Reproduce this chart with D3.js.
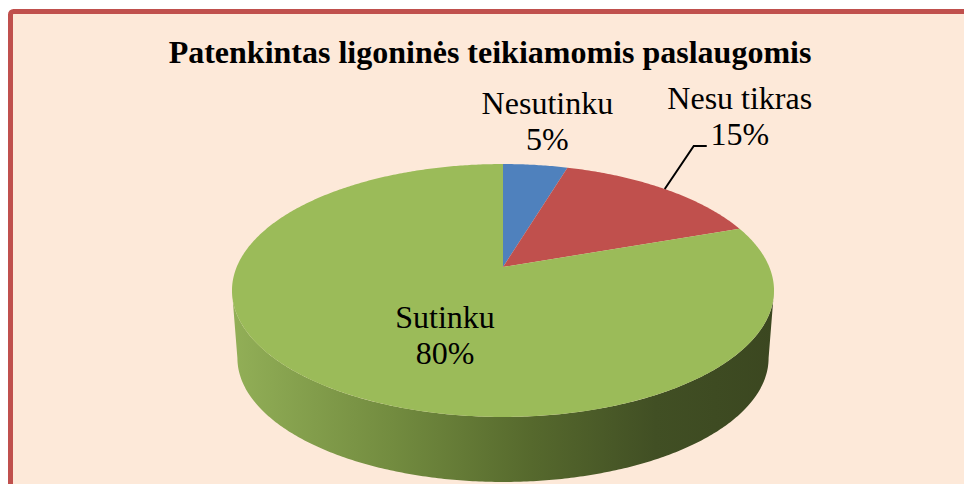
<!DOCTYPE html>
<html>
<head>
<meta charset="utf-8">
<script src="https://cdn.jsdelivr.net/npm/d3@7"></script>
<style>
  body { margin: 0; background: #ffffff; }
</style>
</head>
<body>
<script>
var categories = ["Nesutinku", "Nesu tikras", "Sutinku"];
var shares = [4.6, 15.0, 80.4];
var sliceColors = ["#4f81bd", "#c0504d", "#9bbb59"];
var title = "Patenkintas ligoninės teikiamomis paslaugomis";

var width = 964, height = 484;
var serif = "Liberation Serif";

var svg = d3.select("body").append("svg")
    .attr("width", width)
    .attr("height", height);

// chart area with red border (runs past the right and bottom edge)
svg.append("rect")
    .attr("x", 10.5).attr("y", 11.5)
    .attr("width", 970).attr("height", 500)
    .attr("rx", 3)
    .attr("fill", "#fde9d9")
    .attr("stroke", "#c0504d")
    .attr("stroke-width", 5);

svg.append("text")
    .attr("x", 490).attr("y", 63)
    .attr("text-anchor", "middle")
    .attr("font-family", serif)
    .attr("font-size", 32)
    .attr("font-weight", "bold")
    .text(title);

// perspective projection of the pie plane
var cx = 503, cy = 267;   // where the slices meet
var A = 266.3, B = 122.1, k = 0.1857;
var depth = 68, shrink = 0.98;

function proj(a, r) {
  var u = r * Math.sin(a), v = r * Math.cos(a);
  var f = 1 / (1 + k * v);
  return [cx + A * u * f, cy - B * v * f];
}
function projBottom(a) {
  var p = proj(a, 1);
  return [cx + (p[0] - cx) * shrink, cy + depth + (p[1] - cy) * shrink];
}
function arcPoints(a0, a1, fn) {
  var n = Math.max(2, Math.ceil(Math.abs(a1 - a0) / 0.01));
  return d3.range(n + 1).map(function(i) { return fn(a0 + (a1 - a0) * i / n); });
}

var color = d3.scaleOrdinal().domain(categories).range(sliceColors);
var total = d3.sum(shares);
var pct = d3.format(".0%");

var pie = d3.pie().sort(null).value(function(d) { return d.value; });
var arcs = pie(categories.map(function(c, i) { return { name: c, value: shares[i] }; }));

var line = d3.line();

// side wall gradient
var grad = svg.append("defs").append("linearGradient")
    .attr("id", "side")
    .attr("gradientUnits", "userSpaceOnUse")
    .attr("x1", 232).attr("x2", 775).attr("y1", 0).attr("y2", 0);
[[0, "#92af57"], [0.3, "#728b3f"], [0.55, "#56692d"], [0.78, "#414f24"], [1, "#3b4720"]]
  .forEach(function(s) { grad.append("stop").attr("offset", s[0]).attr("stop-color", s[1]); });

// visible front wall lies between the two silhouette points
var aRight = Math.acos(-k), aLeft = 2 * Math.PI - aRight;

arcs.forEach(function(d) {
  var a0 = Math.max(d.startAngle, aRight), a1 = Math.min(d.endAngle, aLeft);
  if (a1 <= a0) return;
  var pts = arcPoints(a0, a1, function(a) { return proj(a, 1); })
      .concat(arcPoints(a1, a0, projBottom));
  svg.append("path")
      .attr("d", line(pts) + "Z")
      .attr("fill", d.data.name === "Sutinku" ? "url(#side)" : d3.color(color(d.data.name)).darker(1));
});

// top faces
arcs.forEach(function(d) {
  var pts = [[cx, cy]].concat(arcPoints(d.startAngle, d.endAngle, function(a) { return proj(a, 1); }));
  svg.append("path")
      .attr("d", line(pts) + "Z")
      .attr("fill", color(d.data.name));
});

// labels
function midAngle(d) { return (d.startAngle + d.endAngle) / 2; }
var fs = 32, lh = 36;

function label(x, y, d) {
  [d.data.name, pct(d.value / total)].forEach(function(s, i) {
    svg.append("text")
        .attr("x", x).attr("y", y + i * lh)
        .attr("text-anchor", "middle")
        .attr("font-family", serif)
        .attr("font-size", fs)
        .text(s);
  });
}

// Nesutinku: outside, above its slice
var pBlue = proj(midAngle(arcs[0]), 1);
label(pBlue[0] + 12, pBlue[1] - 51, arcs[0]);

// Nesu tikras: outside, with leader line
var pRed = proj(midAngle(arcs[1]), 1);
var knee = [pRed[0] + 29, pRed[1] - 43];
svg.append("path")
    .attr("d", line([pRed, knee, [knee[0] + 13, knee[1]]]))
    .attr("fill", "none")
    .attr("stroke", "#000")
    .attr("stroke-width", 2);
label(knee[0] + 46, knee[1] - 37, arcs[1]);

// Sutinku: inside the slice
var pGreen = proj(201 * Math.PI / 180, 0.55);
label(pGreen[0], pGreen[1] - 8, arcs[2]);
</script>
</body>
</html>
